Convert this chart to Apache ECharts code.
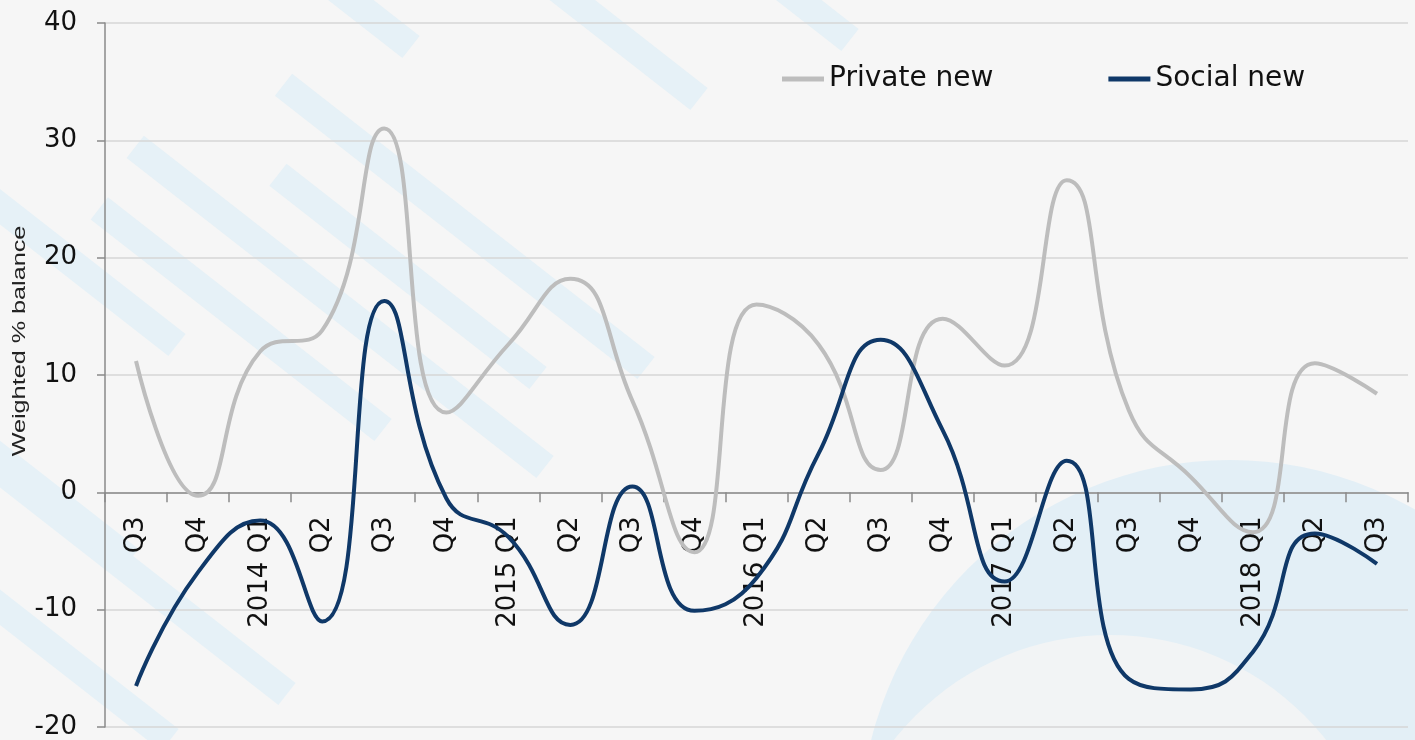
<!DOCTYPE html>
<html>
<head>
<meta charset="utf-8">
<script src="https://cdn.jsdelivr.net/npm/echarts@6/dist/echarts.min.js"></script>
<style>
  html, body { margin: 0; padding: 0; background: #f6f6f6; }
  #chart { width: 1415px; height: 740px; }
</style>
</head>
<body>
<div id="chart"></div>
<script>
// Quarterly survey balances, Q3 2013 to Q3 2018
const categories = ['Q3', 'Q4', '2014 Q1', 'Q2', 'Q3', 'Q4', '2015 Q1', 'Q2', 'Q3', 'Q4',
  '2016 Q1', 'Q2', 'Q3', 'Q4', '2017 Q1', 'Q2', 'Q3', 'Q4', '2018 Q1', 'Q2', 'Q3'];
const privateNew = [11.2, -0.3, 12.0, 13.8, 31.0, 6.8, 12.6, 18.2, 7.8, -5.1,
  16.0, 12.6, 1.9, 14.8, 10.8, 26.6, 7.0, 1.3, -3.4, 11.0, 8.4];
const socialNew = [-16.5, -6.8, -2.4, -11.0, 16.3, -0.5, -3.8, -11.3, 0.5, -10.1,
  -7.3, 3.3, 13.0, 5.3, -7.6, 2.7, -15.9, -16.8, -13.6, -3.5, -6.1];
const yTicks = { min: -20, max: 40, interval: 10 };

const FONT = 'DejaVu Sans';
const stripeColor = '#e6f1f7';

// Plot box
const GRID = { left: 105, right: 7, top: 23, bottom: 13 };
const plotHeight = 740 - GRID.top - GRID.bottom;
// The category axis sits on the zero line, labels included
const zeroOffset = -plotHeight * (0 - yTicks.min) / (yTicks.max - yTicks.min);

// Decorative diagonal bands behind the plot
function band(ex, ey, len) {
  const a = 38 * Math.PI / 180;
  return {
    type: 'line', z: -10, silent: true,
    shape: { x1: ex - len * Math.cos(a), y1: ey - len * Math.sin(a), x2: ex, y2: ey },
    style: { stroke: stripeColor, lineWidth: 28, lineCap: 'butt' }
  };
}

const decor = [
  band(177, 345, 260), band(383, 430, 360), band(545, 467, 520), band(538, 378, 330),
  band(646, 368, 460), band(287, 694, 420), band(411, 47, 140), band(699, 99, 230),
  band(170, 740, 260), band(130, 560, 220), band(850, 40, 120),
  {
    type: 'circle', z: -12, silent: true,
    shape: { cx: 1230, cy: 830, r: 370 },
    style: { fill: '#e3eff6' }
  },
  {
    type: 'circle', z: -11, silent: true,
    shape: { cx: 1110, cy: 910, r: 275 },
    style: { fill: '#f2f4f5' }
  },
  {
    type: 'text', z: 5, silent: true,
    x: 20, y: 341, rotation: Math.PI / 2, scaleX: 1.4,
    style: {
      text: 'Weighted % balance', fill: '#222', font: '18px "Liberation Sans"',
      align: 'center', verticalAlign: 'middle'
    }
  }
];

const chart = echarts.init(document.getElementById('chart'));
chart.setOption({
  backgroundColor: '#f6f6f6',
  animation: false,
  graphic: decor,
  grid: Object.assign({ containLabel: false, outerBoundsMode: 'none' }, GRID),
  legend: {
    left: 777, top: 60,
    icon: 'rect', itemWidth: 42, itemHeight: 5, itemGap: 115,
    textStyle: { fontFamily: FONT, fontSize: 28, color: '#111' },
    data: ['Private new', 'Social new']
  },
  xAxis: {
    type: 'category',
    data: categories,
    boundaryGap: true,
    position: 'bottom',
    offset: zeroOffset,
    axisLine: { onZero: false, lineStyle: { color: '#8a8a8a', width: 1.5 } },
    axisTick: { show: true, length: 10, alignWithLabel: false, lineStyle: { color: '#8a8a8a', width: 1.5 } },
    axisLabel: { interval: 0, rotate: 90, margin: 24, fontFamily: FONT, fontSize: 26, color: '#111' },
    splitLine: { show: false }
  },
  yAxis: {
    type: 'value',
    min: yTicks.min, max: yTicks.max, interval: yTicks.interval,
    axisLine: { show: true, lineStyle: { color: '#8a8a8a', width: 1.5 } },
    axisTick: { show: true, length: 8, lineStyle: { color: '#8a8a8a', width: 1.5 } },
    axisLabel: { margin: 28, fontFamily: FONT, fontSize: 26, color: '#111' },
    splitLine: { show: true, lineStyle: { color: '#d6d6d6', width: 1.5 } }
  },
  series: [
    {
      name: 'Private new', type: 'line', data: privateNew,
      smooth: 0.5, showSymbol: false, symbol: 'none',
      lineStyle: { color: '#bdbdbd', width: 4 },
      itemStyle: { color: '#bdbdbd' }, z: 3
    },
    {
      name: 'Social new', type: 'line', data: socialNew,
      smooth: 0.5, showSymbol: false, symbol: 'none',
      lineStyle: { color: '#0f3868', width: 4 },
      itemStyle: { color: '#0f3868' }, z: 4
    }
  ]
});
</script>
</body>
</html>
